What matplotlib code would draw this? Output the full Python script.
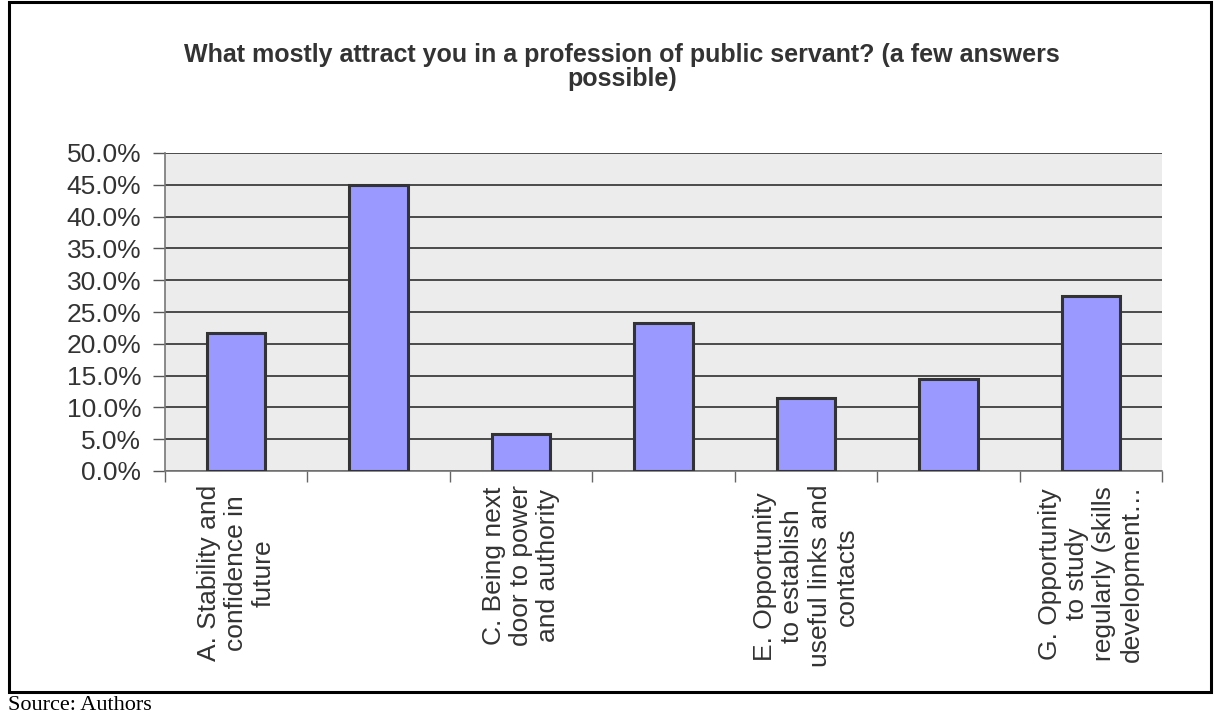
import matplotlib
matplotlib.use("Agg")
import matplotlib.pyplot as plt
from matplotlib.patches import Rectangle
from matplotlib.ticker import FixedLocator, FuncFormatter

# Survey answers (share of respondents)
categories = [
    "A. Stability and\nconfidence in\nfuture",
    "",
    "C. Being next\ndoor to power\nand authority",
    "",
    "E. Opportunity\nto establish\nuseful links and\ncontacts",
    "",
    "G. Opportunity\nto study\nregularly (skills\ndevelopment\u2026",
]
shares = [21.7, 44.9, 5.8, 23.3, 11.5, 14.5, 27.5]
y_ticks = [0, 5, 10, 15, 20, 25, 30, 35, 40, 45, 50]

title = "What mostly attract you in a profession of public servant? (a few answers\npossible)"
source_note = "Source: Authors"

plt.rcParams["font.family"] = ["Liberation Sans", "DejaVu Sans"]

W, H, DPI = 1214, 719, 100
fig = plt.figure(figsize=(W / DPI, H / DPI), dpi=DPI)
fig.patch.set_facecolor("white")

# Outer frame around the chart
frame = Rectangle((9 / W, 1 - 692 / H), (1211 - 9) / W, (692 - 2) / H,
                  transform=fig.transFigure, fill=False, edgecolor="black",
                  linewidth=2.2, zorder=10)
fig.patches.append(frame)

ax = fig.add_axes([165 / W, 1 - 471 / H, (1162 - 165) / W, (471 - 153) / H])
ax.set_facecolor("#ECECEC")

x = list(range(len(shares)))
ax.bar(x, shares, width=0.41, color="#9999FF", edgecolor="#333333",
       linewidth=2.2, zorder=3)

ax.set_xlim(-0.5, len(shares) - 0.5)
ax.set_ylim(0, 50)

ax.yaxis.set_major_locator(FixedLocator(y_ticks))
ax.yaxis.set_major_formatter(FuncFormatter(lambda v, p: f"{v:.1f}%"))
ax.grid(axis="y", color="#4a4a4a", linewidth=1.4, zorder=1)
ax.tick_params(axis="y", direction="out", length=9, width=1.0, color="#555555",
               labelsize=19, labelcolor="#333333", pad=8)

# category boundaries as ticks, labels centered under each bar
ax.set_xticks([i - 0.5 for i in range(len(shares) + 1)])
ax.set_xticklabels([])
ax.tick_params(axis="x", direction="out", length=8, width=1.0, color="#666666")
for i, lab in enumerate(categories):
    if lab:
        ax.text(i, -2.2, lab, rotation=90, ha="center", va="top",
                multialignment="center", fontsize=19, color="#333333",
                transform=ax.transData, linespacing=1.17)

for side in ("top", "right"):
    ax.spines[side].set_visible(False)
ax.spines["left"].set_color("#777777")
ax.spines["bottom"].set_color("#777777")
ax.spines["left"].set_linewidth(1.2)
ax.spines["bottom"].set_linewidth(1.2)

fig.text(622 / W, 1 - 67 / H, title, ha="center", va="center",
         fontsize=18, fontweight="bold", color="#333333", linespacing=1.05)

fig.text(8 / W, 1 - 706 / H, source_note, ha="left", va="center",
         fontsize=16, family=["Liberation Serif", "DejaVu Serif"], color="black")

fig.savefig("out.png", dpi=DPI, facecolor="white")
